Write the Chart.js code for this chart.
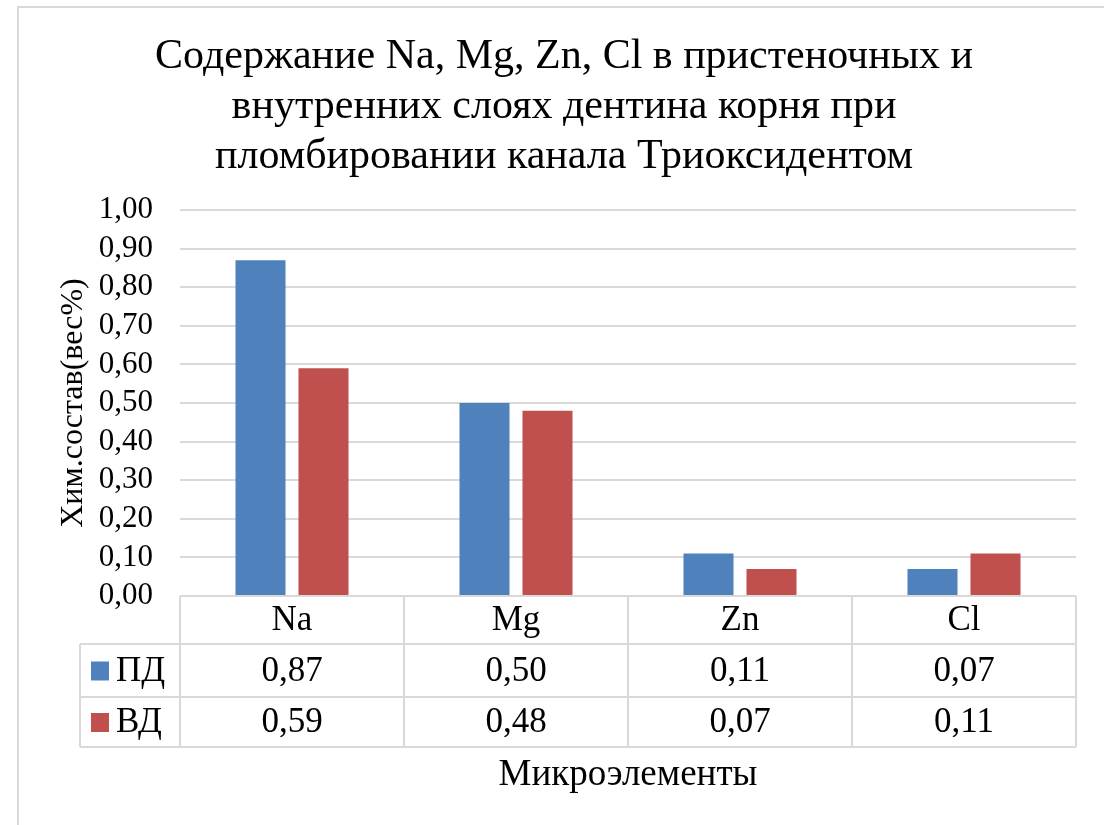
<!DOCTYPE html>
<html>
<head>
<meta charset="utf-8">
<script src="https://cdn.jsdelivr.net/npm/chart.js@4"></script>
<style>
  html, body { margin: 0; padding: 0; background: #fff; }
  #wrap { width: 1104px; height: 825px; position: relative; }
</style>
</head>
<body>
<div id="wrap"><canvas id="chart"></canvas></div>
<script>
// Data
const categories = ["Na", "Mg", "Zn", "Cl"];
const seriesNames = ["ПД", "ВД"];
const pdValues = [0.87, 0.50, 0.11, 0.07];
const vdValues = [0.59, 0.48, 0.07, 0.11];
const yTicks = [0, 0.1, 0.2, 0.3, 0.4, 0.5, 0.6, 0.7, 0.8, 0.9, 1.0];

const titleLines = [
  "Содержание Na, Mg, Zn, Cl в пристеночных и",
  "внутренних слоях дентина корня при",
  "пломбировании канала Триоксидентом"
];
const yTitle = "Хим.состав(вес%)";
const xTitle = "Микроэлементы";

const blue = "#4f81bd";
const red = "#c0504d";
const lineColor = "#d9d9d9";
const font = "'Liberation Serif', 'Times New Roman', serif";

const fmt = v => v.toFixed(2).replace(".", ",");

// Title, axis titles, data table and outer frame
const decorations = {
  id: "decorations",
  afterDraw(chart) {
    const c = chart.ctx;
    const area = chart.chartArea;
    const x = chart.scales.x;
    c.save();

    // outer frame
    c.strokeStyle = lineColor;
    c.lineWidth = 2;
    c.beginPath();
    c.moveTo(18, 830);
    c.lineTo(18, 7);
    c.lineTo(1110, 7);
    c.stroke();

    // title
    c.fillStyle = "#000";
    c.textAlign = "center";
    c.textBaseline = "middle";
    c.font = "42px " + font;
    titleLines.forEach((t, i) => c.fillText(t, 564, 57 + i * 50));

    // y axis title
    c.save();
    c.translate(74, 403);
    c.rotate(-Math.PI / 2);
    c.font = "32px " + font;
    c.fillText(yTitle, 0, 0);
    c.restore();

    // x axis title
    c.font = "37px " + font;
    c.fillText(xTitle, (area.left + area.right) / 2, 775);

    // data table
    const colW = (area.right - area.left) / categories.length;
    const rows = [area.bottom, 644, 697, 747];
    const legendLeft = 80;
    c.strokeStyle = lineColor;
    c.lineWidth = 2;
    c.beginPath();
    c.moveTo(area.left, rows[0]); c.lineTo(area.right, rows[0]);
    for (let r = 1; r < rows.length; r++) {
      c.moveTo(legendLeft, rows[r]); c.lineTo(area.right, rows[r]);
    }
    for (let i = 0; i <= categories.length; i++) {
      const px = area.left + i * colW;
      c.moveTo(px, rows[0]); c.lineTo(px, rows[3]);
    }
    c.moveTo(legendLeft, rows[1]); c.lineTo(legendLeft, rows[3]);
    c.stroke();

    c.fillStyle = "#000";
    c.font = "35px " + font;
    categories.forEach((cat, i) => {
      c.fillText(cat, x.getPixelForValue(i), (rows[0] + rows[1]) / 2 + 1);
    });
    const series = [pdValues, vdValues];
    const colors = [blue, red];
    series.forEach((vals, r) => {
      const cy = (rows[r + 1] + rows[r + 2]) / 2 + 1;
      c.fillStyle = colors[r];
      c.fillRect(91, cy - 10, 18, 19);
      c.fillStyle = "#000";
      c.textAlign = "left";
      c.fillText(seriesNames[r], 116, cy);
      c.textAlign = "center";
      vals.forEach((v, i) => c.fillText(fmt(v), x.getPixelForValue(i), cy));
    });

    c.restore();
  }
};

new Chart(document.getElementById("chart"), {
  type: "bar",
  data: {
    labels: categories,
    datasets: [
      { label: seriesNames[0], data: pdValues, backgroundColor: blue },
      { label: seriesNames[1], data: vdValues, backgroundColor: red }
    ]
  },
  options: {
    responsive: true,
    maintainAspectRatio: false,
    animation: false,
    devicePixelRatio: 1,
    layout: { padding: { top: 210, right: 28, bottom: 229, left: 0 } },
    datasets: { bar: { categoryPercentage: 0.5625, barPercentage: 0.794 } },
    plugins: {
      legend: { display: false },
      title: { display: false },
      tooltip: { enabled: false }
    },
    scales: {
      x: { display: false },
      y: {
        min: 0,
        max: 1,
        afterFit(scale) { scale.width = 180; },
        afterBuildTicks(scale) { scale.ticks = yTicks.map(v => ({ value: v })); },
        border: { display: false },
        grid: { color: lineColor, lineWidth: 2, drawTicks: false },
        ticks: {
          autoSkip: false,
          padding: 27,
          color: "#000",
          font: { family: font, size: 31 },
          callback: v => fmt(v)
        }
      }
    }
  },
  plugins: [decorations]
});
</script>
</body>
</html>
